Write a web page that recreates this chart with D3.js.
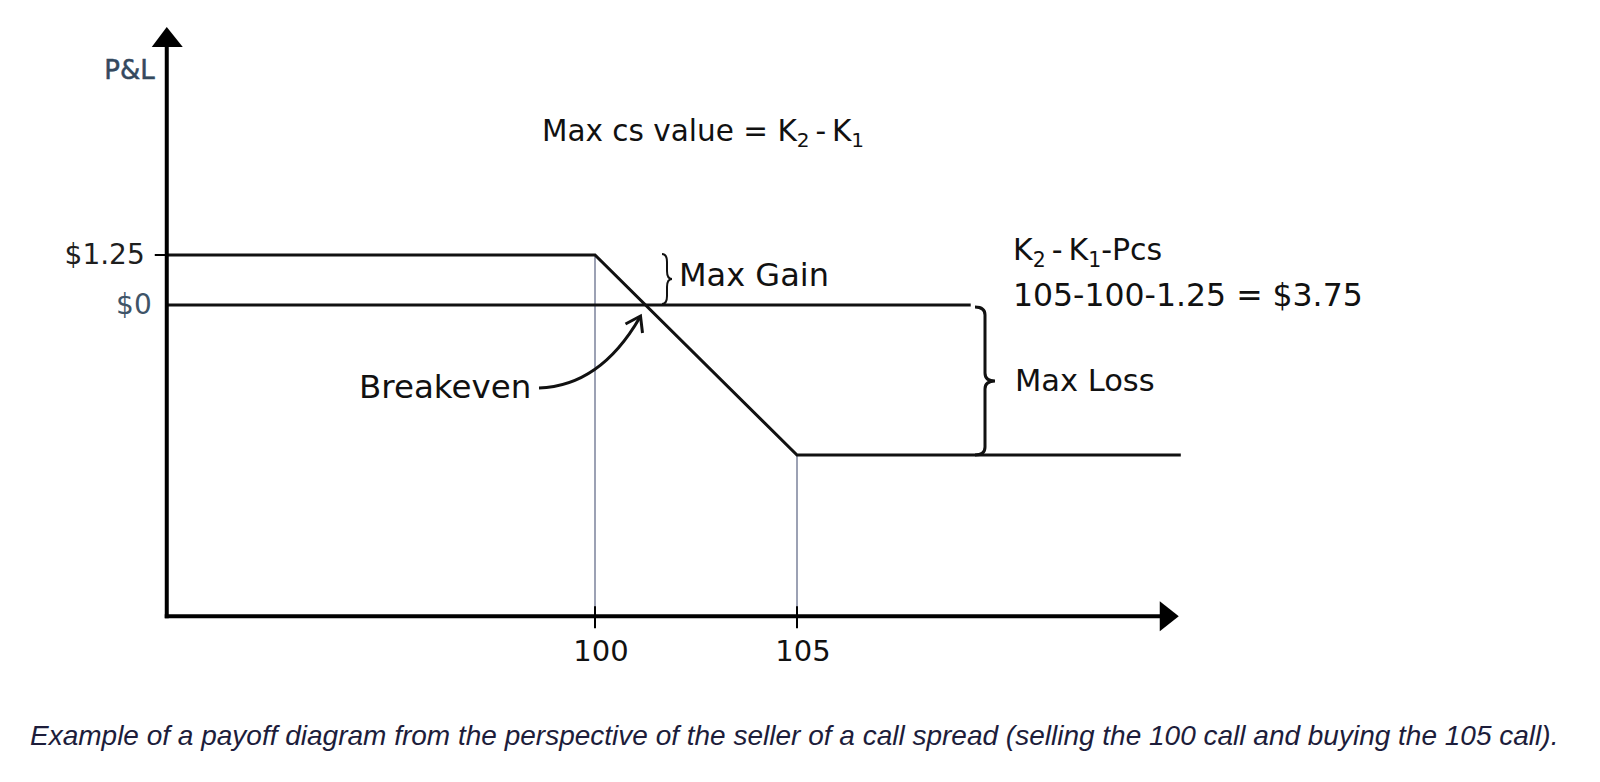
<!DOCTYPE html>
<html>
<head>
<meta charset="utf-8">
<script src="https://cdn.jsdelivr.net/npm/d3@7"></script>
<style>
  html, body { margin: 0; padding: 0; background: #ffffff; }
  svg { display: block; }
</style>
</head>
<body>
<svg id="chart" width="1600" height="782"></svg>
<script>
// ---- data ----
const strikes = [100, 105];
const xTickLabels = ["100", "105"];
const payoffX = [89.4, 100, 105, 114.5];
const payoffY = [1.25, 1.25, -3.75, -3.75];
const zeroLineX = [89.4, 109.3];
const yTickValues = [1.25, 0];
const yTickLabels = ["$1.25", "$0"];
const yTickMarked = [true, false];
const breakeven = 101.25;
const maxGain = 1.25;
const maxLoss = -3.75;
const axisXDomain = [89.4, 114.45];
const axisYDomain = [-7.78, 6.95];
const caption = "Example of a payoff diagram from the perspective of the seller of a call spread (selling the 100 call and buying the 105 call).";

// ---- scales ----
const x = d3.scaleLinear().domain([100, 105]).range([595, 797]);
const y = d3.scaleLinear().domain([0, 1.25]).range([305, 255]);

const svg = d3.select("#chart");
const FONT = "'DejaVu Sans', sans-serif";

// grey strike verticals
svg.append("line").attr("x1", x(strikes[0])).attr("x2", x(strikes[0]))
  .attr("y1", y(maxGain)).attr("y2", y(axisYDomain[0]))
  .attr("stroke", "#9ca1b4").attr("stroke-width", 2);
svg.append("line").attr("x1", x(strikes[1])).attr("x2", x(strikes[1]))
  .attr("y1", y(maxLoss)).attr("y2", y(axisYDomain[0]))
  .attr("stroke", "#9ca1b4").attr("stroke-width", 2);

// zero line
svg.append("line")
  .attr("x1", x(zeroLineX[0])).attr("x2", x(zeroLineX[1]))
  .attr("y1", y(0)).attr("y2", y(0))
  .attr("stroke", "#111").attr("stroke-width", 3);

// payoff line
const line = d3.line().x((d, i) => x(payoffX[i])).y((d, i) => y(payoffY[i]));
svg.append("path").datum(payoffX).attr("d", line)
  .attr("fill", "none").attr("stroke", "#111").attr("stroke-width", 3)
  .attr("stroke-linejoin", "miter");

// axes
const x0 = x(axisXDomain[0]), x1 = x(axisXDomain[1]);
const yb = y(axisYDomain[0]), yt = y(axisYDomain[1]);
svg.append("line").attr("x1", x0).attr("x2", x0).attr("y1", yb + 2).attr("y2", yt + 18)
  .attr("stroke", "#000").attr("stroke-width", 4);
svg.append("path")
  .attr("d", `M${x0},${yt} L${x0 - 15},${yt + 20} L${x0 + 16},${yt + 20} Z`)
  .attr("fill", "#000");
svg.append("line").attr("x1", x0 - 2).attr("x2", x1 - 16).attr("y1", yb).attr("y2", yb)
  .attr("stroke", "#000").attr("stroke-width", 4);
svg.append("path")
  .attr("d", `M${x1},${yb} L${x1 - 19},${yb - 15} L${x1 - 19},${yb + 15} Z`)
  .attr("fill", "#000");

// x ticks
svg.selectAll(".xtick").data(strikes).enter().append("line")
  .attr("x1", d => x(d)).attr("x2", d => x(d))
  .attr("y1", yb - 10).attr("y2", yb + 12)
  .attr("stroke", "#000").attr("stroke-width", 2);
svg.selectAll(".xlab").data(strikes).enter().append("text")
  .attr("x", d => x(d) + 6).attr("y", yb + 45)
  .attr("text-anchor", "middle")
  .attr("font-family", FONT).attr("font-size", 29).attr("fill", "#111")
  .text((d, i) => xTickLabels[i]);

// y ticks
svg.selectAll(".ytick").data(yTickValues.filter((d, i) => yTickMarked[i])).enter().append("line")
  .attr("x1", x0 - 12).attr("x2", x0).attr("y1", d => y(d)).attr("y2", d => y(d))
  .attr("stroke", "#000").attr("stroke-width", 2);
svg.selectAll(".ylab").data(yTickValues).enter().append("text")
  .attr("x", (d, i) => yTickMarked[i] ? x0 - 22 : x0 - 15)
  .attr("y", d => y(d) + 9)
  .attr("text-anchor", "end")
  .attr("font-family", FONT).attr("font-size", 28)
  .attr("fill", (d, i) => yTickMarked[i] ? "#1e1e1e" : "#3f5468")
  .text((d, i) => yTickLabels[i]);

// P&L label
svg.append("text").attr("x", x0 - 12).attr("y", 79).attr("text-anchor", "end")
  .attr("font-family", FONT).attr("font-size", 26).attr("fill", "#34495e")
  .attr("stroke", "#34495e").attr("stroke-width", 0.5)
  .text("P&L");

// helper: right brace
function brace(xs, y0, y1, w) {
  const ym = (y0 + y1) / 2, h = w / 2, r = Math.min(8, (y1 - y0) / 6);
  return `M${xs},${y0} Q${xs + h},${y0} ${xs + h},${y0 + r} L${xs + h},${ym - r} ` +
    `Q${xs + h},${ym} ${xs + w},${ym} Q${xs + h},${ym} ${xs + h},${ym + r} ` +
    `L${xs + h},${y1 - r} Q${xs + h},${y1} ${xs},${y1}`;
}
// max gain brace
svg.append("path").attr("d", brace(662, y(maxGain) - 1, y(0) - 1, 10))
  .attr("fill", "none").attr("stroke", "#111").attr("stroke-width", 2);
// max loss brace
svg.append("path").attr("d", brace(975, y(0) + 2, y(maxLoss), 20))
  .attr("fill", "none").attr("stroke", "#111").attr("stroke-width", 3);

// annotations
function txt(xp, yp, size, parts) {
  const t = svg.append("text").attr("x", xp).attr("y", yp)
    .attr("font-family", FONT).attr("font-size", size).attr("fill", "#111");
  parts.forEach(p => {
    const s = t.append("tspan").text(p.t);
    if (p.sub) s.attr("font-size", size * 0.68).attr("dy", size * 0.22);
    if (p.up) s.attr("dy", -size * 0.22);
  });
  return t;
}
txt(542, 141, 29.5, [{t: "Max cs value = K"}, {t: "2", sub: true}, {t: "\u2009-\u2009K", up: true}, {t: "1", sub: true}]);
txt(679, 286, 32, [{t: "Max Gain"}]);
txt(1013, 260, 30, [{t: "K"}, {t: "2", sub: true}, {t: "\u2009-\u2009K", up: true}, {t: "1", sub: true}, {t: "-Pcs", up: true}]);
txt(1013, 306, 31.5, [{t: "105-100-1.25 = $3.75"}]);
txt(1015, 391, 30.5, [{t: "Max Loss"}]);
txt(359, 398, 32.5, [{t: "Breakeven"}]);

// breakeven arrow
const bx = x(breakeven), by = y(0);
svg.append("path")
  .attr("d", `M539,388 Q600,386 ${bx - 6},${by + 13}`)
  .attr("fill", "none").attr("stroke", "#111").attr("stroke-width", 3);
svg.append("path")
  .attr("d", `M${bx - 20},${by + 19} L${bx - 5},${by + 11} L${bx - 3},${by + 28}`)
  .attr("fill", "none").attr("stroke", "#111").attr("stroke-width", 3)
  .attr("stroke-linejoin", "miter");

// caption
svg.append("text").attr("x", 30).attr("y", 745)
  .attr("font-family", "'Liberation Sans', Arial, sans-serif")
  .attr("font-style", "italic").attr("font-size", 28).attr("fill", "#1d1d3b")
  .text(caption);
</script>
</body>
</html>
